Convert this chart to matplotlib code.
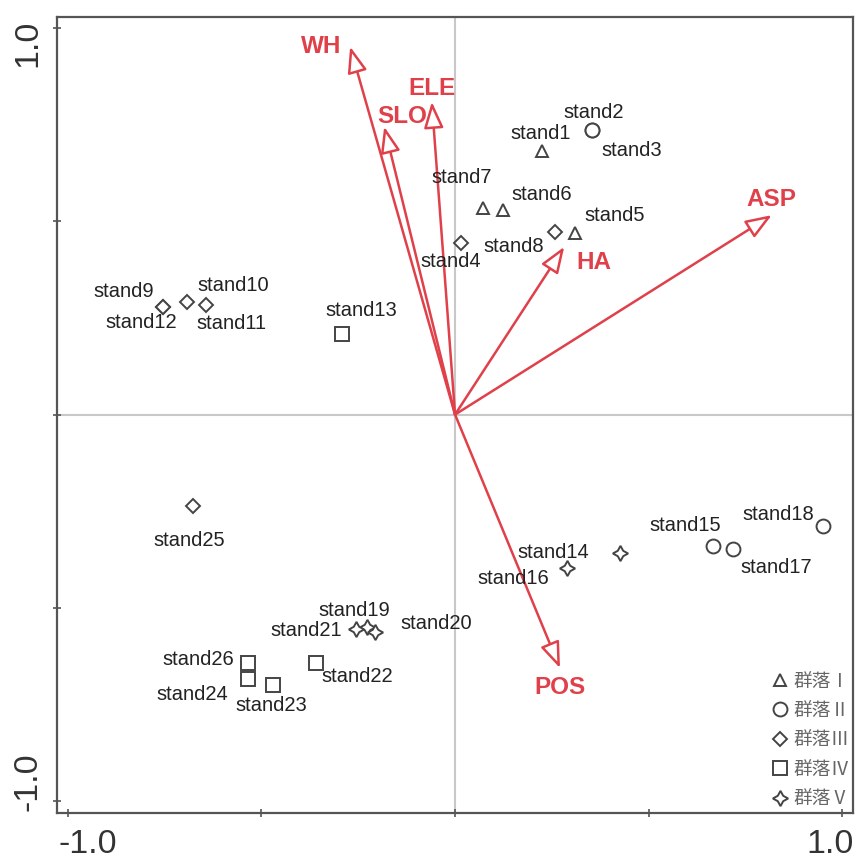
import matplotlib
matplotlib.use("Agg")
import matplotlib.pyplot as plt
from matplotlib.lines import Line2D

# ___DATA___ #
stands = ["stand%d" % i for i in range(1, 27)]
axis1 = [0.224, 0.353, 0.353, 0.015, 0.310, 0.123, 0.073, 0.259, -0.755, -0.692,
         -0.643, -0.755, -0.293, 0.426, 0.665, 0.290, 0.718, 0.949, -0.228, -0.206,
         -0.256, -0.359, -0.471, -0.534, -0.676, -0.534]
axis2 = [0.683, 0.735, 0.735, 0.445, 0.470, 0.529, 0.534, 0.473, 0.279, 0.290,
         0.283, 0.279, 0.208, -0.357, -0.340, -0.396, -0.349, -0.288, -0.549, -0.562,
         -0.556, -0.644, -0.700, -0.683, -0.237, -0.642]
community = [1, 2, 2, 3, 1, 1, 1, 3, 3, 3, 3, 3, 4, 5, 2, 5, 2, 2, 5, 5, 5, 4, 4, 4, 3, 4]
community_names = ["群落Ⅰ", "群落Ⅱ", "群落Ⅲ", "群落Ⅳ", "群落Ⅴ"]

env_vars = ["WH", "ELE", "SLO", "HA", "ASP", "POS"]
env_x = [-0.271, -0.060, -0.183, 0.282, 0.818, 0.271]
env_y = [0.952, 0.809, 0.745, 0.434, 0.516, -0.656]

# ___STYLE___ #
markers = {1: "^", 2: "o", 3: "D", 4: "s", 5: (4, 1, 0)}
msizes = {1: 8, 2: 10, 3: 7.5, 4: 9.5, 5: 11}
point_color = "#444444"
red = "#e0404a"

# label offsets in pixels (dx right, dy up)
stand_offsets = {
    "stand1": (-1, 17), "stand2": (2, 18), "stand3": (40, -20), "stand4": (-10, -19),
    "stand5": (40, 17), "stand6": (39, 16), "stand7": (-22, 31), "stand8": (-42, -15),
    "stand9": (-39, 15), "stand10": (46, 17), "stand11": (25, -18), "stand12": (-21, -16),
    "stand13": (20, 24), "stand14": (-67, 0), "stand15": (-27, 20), "stand16": (-54, -11),
    "stand17": (43, -18), "stand18": (-44, 11), "stand19": (-12, 16), "stand20": (61, 8),
    "stand21": (-50, -1), "stand22": (41, -13), "stand23": (-1, -20), "stand24": (-56, -16),
    "stand25": (-4, -34), "stand26": (-50, 3),
}
env_offsets = {"WH": (-29, 0), "ELE": (0, 13), "SLO": (18, 10),
               "HA": (30, -16), "ASP": (0, 16), "POS": (0, -19)}

plt.rcParams["font.family"] = ["Liberation Sans", "DejaVu Sans"]

fig = plt.figure(figsize=(8.56, 8.61), dpi=100)
ax = fig.add_axes([0.0666, 0.0557, 0.93, 0.9245])
ax.set_xlim(-1.028, 1.028)
ax.set_ylim(-1.031, 1.0285)

ax.axhline(0, color="#c8c8c8", lw=1.5, zorder=0)
ax.axvline(0, color="#c8c8c8", lw=1.5, zorder=0)

# environmental arrows
for name, ex, ey in zip(env_vars, env_x, env_y):
    ax.annotate("", xy=(ex, ey), xytext=(0, 0),
                arrowprops=dict(arrowstyle="-|>,head_length=0.8,head_width=0.3",
                                mutation_scale=20, fc="white", ec=red, lw=1.8,
                                shrinkA=0, shrinkB=0), zorder=3)
    dx, dy = env_offsets[name]
    ax.annotate(name, xy=(ex, ey), xytext=(dx, dy), textcoords="offset pixels",
                ha="center", va="center", color=red, fontsize=17.5, fontweight="bold",
                zorder=4)

# sample points
for c in range(1, 6):
    xs = [x for x, g in zip(axis1, community) if g == c]
    ys = [y for y, g in zip(axis2, community) if g == c]
    ax.plot(xs, ys, linestyle="none", marker=markers[c], ms=msizes[c],
            mfc="white", mec=point_color, mew=1.4, zorder=5)

for name, x, y in zip(stands, axis1, axis2):
    dx, dy = stand_offsets[name]
    ax.annotate(name, xy=(x, y), xytext=(dx, dy), textcoords="offset pixels",
                ha="center", va="center", fontsize=14.5, color="#222222", zorder=6)

# axes look
for sp in ax.spines.values():
    sp.set_color("#555555")
    sp.set_linewidth(1.6)
ax.set_xticks([-1, -0.5, 0, 0.5, 1])
ax.set_yticks([-1, -0.5, 0, 0.5, 1])
ax.tick_params(direction="inout", length=6, width=1.2, colors="#555555",
               labelbottom=False, labelleft=False)

ax.text(-0.948, -0.040, "-1.0", transform=ax.get_xaxis_transform(), ha="center",
        va="center", fontsize=24.5, color="#333333", clip_on=False)
ax.text(0.969, -0.040, "1.0", transform=ax.get_xaxis_transform(), ha="center",
        va="center", fontsize=24.5, color="#333333", clip_on=False)
ax.text(-0.0363, 0.961, "1.0", transform=ax.get_yaxis_transform(), ha="center",
        va="center", rotation=90, fontsize=24.5, color="#333333", clip_on=False)
ax.text(-0.0363, -0.951, "-1.0", transform=ax.get_yaxis_transform(), ha="center",
        va="center", rotation=90, fontsize=24.5, color="#333333", clip_on=False)

# legend
handles = [Line2D([], [], linestyle="none", marker=markers[c], ms=msizes[c],
                  mfc="white", mec=point_color, mew=1.4) for c in range(1, 6)]
leg = ax.legend(handles, community_names, loc="lower right", bbox_to_anchor=(1.0, 0.0),
                frameon=False, borderaxespad=0.1, borderpad=0.1, handlelength=0.9,
                handletextpad=0.25, labelspacing=0.45, labelcolor="#666666",
                prop={"family": ["Noto Sans CJK SC", "DejaVu Sans"], "size": 13.5})

fig.savefig("out.png", dpi=100)
